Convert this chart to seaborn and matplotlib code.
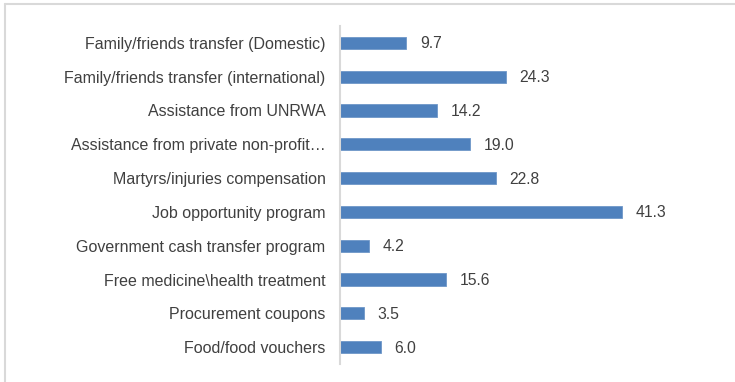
import matplotlib
matplotlib.use("Agg")
import matplotlib.pyplot as plt
from matplotlib.lines import Line2D
import seaborn as sns
import pandas as pd

categories = [
    "Family/friends transfer (Domestic)",
    "Family/friends transfer (international)",
    "Assistance from UNRWA",
    "Assistance from private non-profit\u2026",
    "Martyrs/injuries compensation",
    "Job opportunity program",
    "Government cash transfer program",
    "Free medicine\\health treatment",
    "Procurement coupons",
    "Food/food vouchers",
]
values = [9.7, 24.3, 14.2, 19.0, 22.8, 41.3, 4.2, 15.6, 3.5, 6.0]

df = pd.DataFrame({"category": categories, "value": values})

sns.set_theme(style="white")
plt.rcParams["font.family"] = ["Liberation Sans", "DejaVu Sans"]

fig = plt.figure(figsize=(7.35, 3.82), dpi=100)
ax = fig.add_axes([340 / 735, 1 - 364 / 382, 307 / 735, (364 - 26) / 382])

sns.barplot(data=df, x="value", y="category", orient="h", color="#4F81BD",
            saturation=1, width=0.36, edgecolor="#6E97C8", linewidth=0.6, ax=ax)

ax.set_xlim(0, 45)
ax.set_ylim(9.5, -0.5)
ax.set_xlabel("")
ax.set_ylabel("")
ax.set_xticks([])
for side in ["top", "right", "bottom"]:
    ax.spines[side].set_visible(False)
ax.spines["left"].set_color("#D9D9D9")
ax.spines["left"].set_linewidth(1.5)
ax.tick_params(axis="y", length=0, pad=10.5, labelsize=11.5, labelcolor="#404040")

for i, v in enumerate(values):
    ax.text(v + 2.0, i + 0.03, f"{v:.1f}", va="center", ha="left",
            fontsize=11.3, color="#404040")

# chart frame edges
fig.add_artist(Line2D([5 / 735, 5 / 735], [0, 1 - 4 / 382], transform=fig.transFigure,
                      color="#D9D9D9", linewidth=1.5))
fig.add_artist(Line2D([5 / 735, 1], [1 - 4 / 382, 1 - 4 / 382], transform=fig.transFigure,
                      color="#D9D9D9", linewidth=1.5))

fig.savefig("out.png", dpi=100)
